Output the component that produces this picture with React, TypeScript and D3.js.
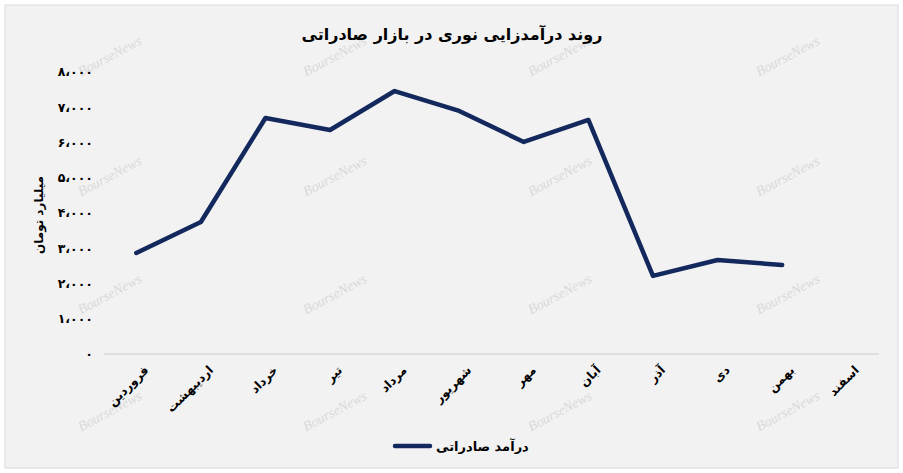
import * as d3 from "d3";

const months = [
  "فروردین", "اردیبهشت", "خرداد", "تیر", "مرداد", "شهریور",
  "مهر", "آبان", "آذر", "دی", "بهمن", "اسفند",
];
const revenue: (number | null)[] = [
  2865, 3745, 6695, 6355, 7460, 6895, 6015, 6640, 2215, 2665, 2525, null,
];
const yTicks = [0, 1000, 2000, 3000, 4000, 5000, 6000, 7000, 8000];
const yTickLabels = ["۰", "۱،۰۰۰", "۲،۰۰۰", "۳،۰۰۰", "۴،۰۰۰", "۵،۰۰۰", "۶،۰۰۰", "۷،۰۰۰", "۸،۰۰۰"];
const title = "روند درآمدزایی نوری در بازار صادراتی";
const yTitle = "میلیارد تومان";
const seriesName = "درآمد صادراتی";

const W = 903;
const H = 473;
const font = "'DejaVu Sans', sans-serif";
const navy = "#13285c";

const App = () => {
  const x = d3.scaleBand<string>().domain(months).range([104, 879]);
  const y = d3.scaleLinear().domain([0, 8000]).range([354, 72]);

  const pts = months.map((m, i) => ({ m, v: revenue[i] }));
  const line = d3
    .line<{ m: string; v: number | null }>()
    .defined((d) => d.v !== null)
    .x((d) => x(d.m)! + x.bandwidth() / 2)
    .y((d) => y(d.v as number));

  const wmX = [112, 337, 562, 790];
  const wmY = [60, 180, 298, 415];

  return (
    <svg
      width={W}
      height={H}
      style={{ position: "absolute", left: 0, top: 0, background: "#fff" }}
    >
      <rect x={5} y={5} width={W - 10} height={H - 10} fill="#f2f2f2" stroke="#d9d9d9" strokeWidth={1} />

      {wmY.map((wy) =>
        wmX.map((wx) => (
          <text
            key={`${wx}-${wy}`}
            x={wx}
            y={wy}
            transform={`rotate(-28 ${wx} ${wy})`}
            textAnchor="middle"
            fontFamily="'Liberation Serif', serif"
            fontStyle="italic"
            fontSize={14}
            fill="#d9d9d9"
          >
            BourseNews
          </text>
        ))
      )}

      <text x={452} y={40} textAnchor="middle" fontFamily={font} fontWeight="bold" fontSize={16} fill="#000">
        {title}
      </text>

      <line x1={104} x2={879} y1={y(0)} y2={y(0)} stroke="#d9d9d9" strokeWidth={1.5} />

      {yTicks.map((t, i) => (
        <text
          key={t}
          x={93}
          y={y(t)}
          dy="0.35em"
          textAnchor="end"
          fontFamily={font}
          fontWeight="bold"
          fontSize={12.5}
          fill="#000"
        >
          {yTickLabels[i]}
        </text>
      ))}

      <text
        transform={`translate(43,${(y(0) + y(8000)) / 2 + 2}) rotate(-90)`}
        textAnchor="middle"
        fontFamily={font}
        fontWeight="bold"
        fontSize={12}
        fill="#000"
      >
        {yTitle}
      </text>

      {months.map((m) => {
        const cx = x(m)! + x.bandwidth() / 2 + 7;
        const cy = 365;
        return (
          <text
            key={m}
            transform={`translate(${cx},${cy}) rotate(-45)`}
            textAnchor="end"
            dy="0.7em"
            fontFamily={font}
            fontWeight="bold"
            fontSize={12}
            fill="#000"
          >
            {m}
          </text>
        );
      })}

      <path d={line(pts) ?? ""} fill="none" stroke={navy} strokeWidth={4.5} strokeLinejoin="round" strokeLinecap="round" />

      <line x1={395} x2={430} y1={446} y2={446} stroke={navy} strokeWidth={4.5} strokeLinecap="round" />
      <text x={436} y={451} textAnchor="start" fontFamily={font} fontWeight="bold" fontSize={13} fill="#000">
        {seriesName}
      </text>
    </svg>
  );
};

export default App;
